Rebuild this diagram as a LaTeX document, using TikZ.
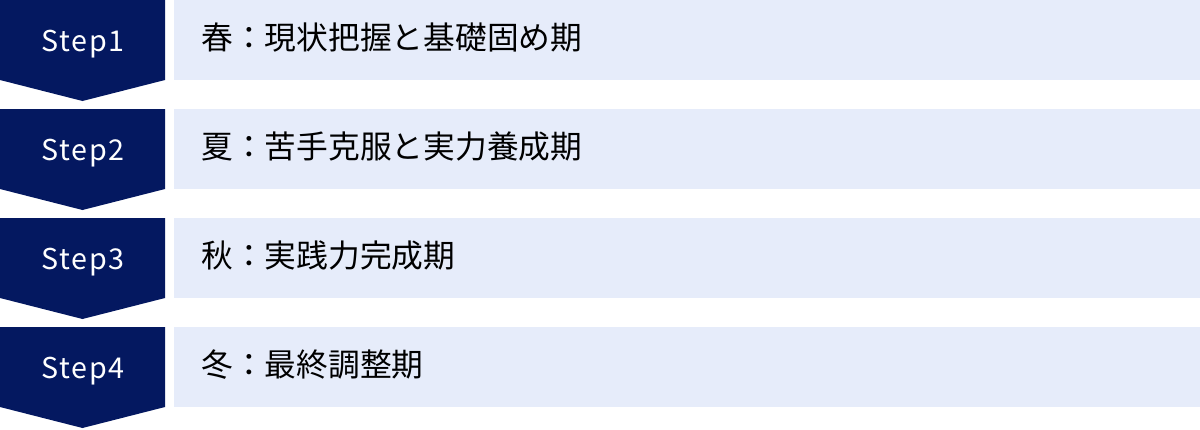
\documentclass[tikz,border=0pt]{standalone}
\usepackage{fontspec}
\setmainfont{Noto Sans CJK JP}
\definecolor{stepnavy}{RGB}{4,24,96}
\definecolor{barblue}{RGB}{230,236,250}

\tikzset{every picture/.style={line width=0.75pt}}

\begin{document}
\begin{tikzpicture}[x=0.75pt,y=0.75pt,yscale=-1,xscale=1,
  stepshape/.style={draw=none,fill=stepnavy},
  phasebar/.style={draw=none,fill=barblue},
  steplabel/.style={anchor=base,inner sep=0.75pt,text=white,font=\fontsize{21.5}{25}\selectfont\addfontfeature{LetterSpace=6}},
  phaselabel/.style={anchor=base west,inner sep=0.75pt,text=black,font=\fontsize{23.8}{28}\selectfont}]
\useasboundingbox (0,0) rectangle (1200,429);

%Step 1 arrow
\fill [stepshape] (0,0) -- (165,0) -- (165,80) -- (82.5,101) -- (0,80) -- cycle ;
%Step 1 bar
\fill [phasebar] (174,0) rectangle (1200,80) ;
%Step 2 arrow
\fill [stepshape] (0,109) -- (165,109) -- (165,189) -- (82.5,210) -- (0,189) -- cycle ;
%Step 2 bar
\fill [phasebar] (174,109) rectangle (1200,189) ;
%Step 3 arrow
\fill [stepshape] (0,218) -- (165,218) -- (165,298) -- (82.5,319) -- (0,298) -- cycle ;
%Step 3 bar
\fill [phasebar] (174,218) rectangle (1200,298) ;
%Step 4 arrow
\fill [stepshape] (0,327) -- (165,327) -- (165,407) -- (82.5,428) -- (0,407) -- cycle ;
%Step 4 bar
\fill [phasebar] (174,327) rectangle (1200,407) ;

% Text Node
\node [steplabel] (step1) at (83,51) {Step1};
% Text Node
\node [phaselabel] (spring) at (200,49.5) {春：現状把握と基礎固め期};
% Text Node
\node [steplabel] (step2) at (83,160) {Step2};
% Text Node
\node [phaselabel] (summer) at (200,158.5) {夏：苦手克服と実力養成期};
% Text Node
\node [steplabel] (step3) at (83,269) {Step3};
% Text Node
\node [phaselabel] (autumn) at (200,267.5) {秋：実践力完成期};
% Text Node
\node [steplabel] (step4) at (83,378) {Step4};
% Text Node
\node [phaselabel] (winter) at (200,376.5) {冬：最終調整期};

\end{tikzpicture}
\end{document}
